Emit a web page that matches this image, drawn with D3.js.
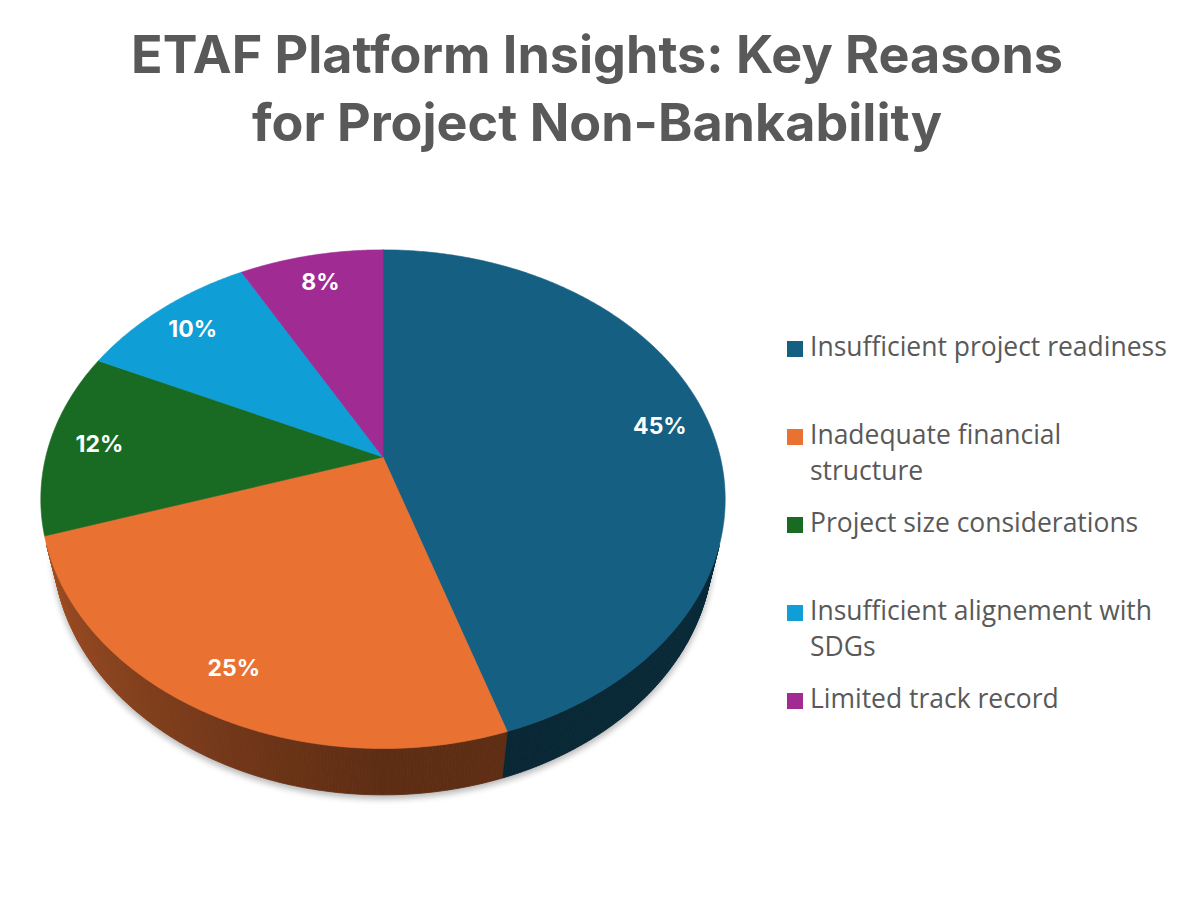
<!DOCTYPE html>
<html>
<head>
<meta charset="utf-8">
<script src="https://cdn.jsdelivr.net/npm/d3@7"></script>
<style>
  body { margin: 0; background: #fff; }
  svg { display: block; }
</style>
</head>
<body>
<svg id="chart" width="1200" height="920"></svg>
<script>
var titleLines = ["ETAF Platform Insights: Key Reasons", "for Project Non-Bankability"];
var categories = [
  "Insufficient project readiness",
  "Inadequate financial structure",
  "Project size considerations",
  "Insufficient alignement with SDGs",
  "Limited track record"
];
var shares = [45, 25, 12, 10, 8];
var colors = ["#156082", "#e97132", "#196b24", "#0f9ed5", "#a02b93"];
var legendLines = [
  ["Insufficient project readiness"],
  ["Inadequate financial", "structure"],
  ["Project size considerations"],
  ["Insufficient alignement with", "SDGs"],
  ["Limited track record"]
];

var svg = d3.select("#chart");

// perspective projection of the tilted pie (radius 1)
var cx = 383, cy = 457, focalX = 1403, focalY = 1419, dist = 4.16;
var sinT = 0.71, cosT = 0.704, thick = 0.211;

function project(a, r, y) {
  var x = r * Math.sin(a), z = r * Math.cos(a);
  var yc = z * sinT + y * cosT;
  var dc = dist + z * cosT - y * sinT;
  return [cx + focalX * x / dc, cy - focalY * yc / dc];
}

function arcPoints(a0, a1, r, y) {
  var n = Math.max(2, Math.ceil((a1 - a0) / (Math.PI / 360)));
  return d3.range(n + 1).map(function (i) {
    return project(a0 + (a1 - a0) * i / n, r, y);
  });
}

var line = d3.line();
function shapePath(pts) { return line(pts) + "Z"; }

var pie = d3.pie().sort(null).value(function (d) { return d; });
var arcs = pie(shares);

// shadow
var defs = svg.append("defs");
defs.append("filter").attr("id", "soft")
  .attr("x", "-10%").attr("y", "-10%").attr("width", "120%").attr("height", "120%")
  .append("feGaussianBlur").attr("stdDeviation", 3);

svg.append("path")
  .attr("d", shapePath(arcPoints(0, 2 * Math.PI, 1.003, -thick)))
  .attr("transform", "translate(0,3)")
  .attr("fill", "#000")
  .attr("opacity", 0.28)
  .attr("filter", "url(#soft)");

// outer walls (only the part facing the camera)
var aMin = Math.acos(-1 / (dist * cosT));
var aMax = 2 * Math.PI - aMin;
var shade = d3.scaleLinear()
  .domain([aMin, Math.PI, aMax])
  .range([0.43, 0.40, 0.68]);
var step = Math.PI / 360;

var walls = svg.append("g");
arcs.forEach(function (d, i) {
  var s = Math.max(d.startAngle, aMin), e = Math.min(d.endAngle, aMax);
  for (var a = s; a < e; a += step) {
    var b = Math.min(a + step, e);
    var pts = [project(a, 1, 0), project(b, 1, 0), project(b, 1, -thick), project(a, 1, -thick)];
    var c = d3.interpolateRgb("#000", colors[i])(shade((a + b) / 2));
    walls.append("path")
      .attr("d", shapePath(pts))
      .attr("fill", c)
      .attr("stroke", c)
      .attr("stroke-width", 0.8);
  }
});

// top faces
svg.append("g").selectAll("path")
  .data(arcs)
  .join("path")
  .attr("d", function (d) {
    return shapePath([project(0, 0, 0)].concat(arcPoints(d.startAngle, d.endAngle, 1, 0)));
  })
  .attr("fill", function (d, i) { return colors[i]; })
  .attr("stroke", function (d, i) { return colors[i]; })
  .attr("stroke-width", 0.6);

// data labels
svg.append("g").selectAll("text")
  .data(arcs)
  .join("text")
  .attr("transform", function (d) {
    var p = project((d.startAngle + d.endAngle) / 2, 0.85, 0);
    return "translate(" + p[0] + "," + p[1] + ")";
  })
  .attr("text-anchor", "middle")
  .attr("dy", "0.36em")
  .attr("fill", "#fff")
  .attr("font-family", "Inter, 'Open Sans', sans-serif")
  .attr("font-weight", 700)
  .attr("font-size", 23)
  .text(function (d) { return d.data + "%"; });

// title
var title = svg.append("g")
  .attr("font-family", "Inter, 'Open Sans', sans-serif")
  .attr("font-weight", 700)
  .attr("fill", "#595959")
  .attr("text-anchor", "middle");
var tl = title.selectAll("text")
  .data(titleLines)
  .join("text")
  .attr("x", 597)
  .attr("y", function (d, i) { return 73 + i * 68; })
  .attr("font-size", 48)
  .text(function (d) { return d; });
var tw = tl.node().getComputedTextLength();
tl.attr("font-size", 48 * 932 / tw);

// legend
var legend = svg.append("g")
  .attr("font-family", "'Open Sans', sans-serif")
  .attr("fill", "#595959");
var items = legend.selectAll("g")
  .data(categories)
  .join("g")
  .attr("transform", function (d, i) { return "translate(787," + (341 + i * 88) + ")"; });
items.append("rect")
  .attr("width", 16).attr("height", 16)
  .attr("fill", function (d, i) { return colors[i]; });
var lt = items.selectAll("text")
  .data(function (d, i) { return legendLines[i]; })
  .join("text")
  .attr("x", 23)
  .attr("y", function (d, j) { return 15 + j * 36; })
  .attr("font-size", 22)
  .text(function (d) { return d; });
var lw = lt.filter(function (d) { return d === categories[0]; }).node().getComputedTextLength();
lt.attr("font-size", 22 * 357 / lw);
</script>
</body>
</html>
